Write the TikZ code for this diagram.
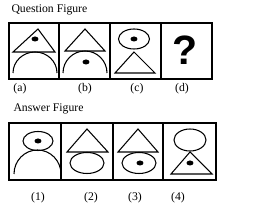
\documentclass[tikz,border=0pt]{standalone}
\usepackage{fontspec}
\setmainfont{Liberation Serif}
\newfontfamily\qmarkfont{Liberation Sans}
\begin{document}
\begin{tikzpicture}[x=0.03cm, y=-0.03cm, line width=0.9pt,
    figlabel/.style={font=\fontsize{10}{12}\selectfont, inner sep=0pt},
    dotmark/.style={fill=black, draw=none}]
  \useasboundingbox (0,0) rectangle (268,206);

  % Question figure: titles, frame and dividers
  \node[figlabel, anchor=west] (qtitle) at (11,10) {Question Figure};
  \draw (9,23) rectangle (212,79);
  \draw (59,23) -- (59,79) (110,23) -- (110,79) (161,23) -- (161,79);

  % (a) triangle with dot above dome
  \draw (38,29) -- (55,52) -- (13,52) -- cycle;
  \fill[dotmark] (35,39) ellipse [x radius=3.5, y radius=2.5];
  \draw (13,73) arc [start angle=180, end angle=360, x radius=22, y radius=21];

  % (b) triangle above dome with dot
  \draw (85,29) -- (105,51) -- (65,51) -- cycle;
  \draw (63,73) arc [start angle=180, end angle=360, x radius=22, y radius=22];
  \fill[dotmark] (86,62) ellipse [x radius=3.5, y radius=2.5];

  % (c) ellipse with dot above triangle
  \draw (134,39) ellipse [x radius=15.5, y radius=10];
  \fill[dotmark] (134,39) ellipse [x radius=3.5, y radius=2.5];
  \draw (134,52) -- (155,73) -- (115,73) -- cycle;

  % (d) question mark
  \node[font=\qmarkfont\bfseries\fontsize{35}{35}\selectfont, inner sep=0pt] (qmark) at (185,50) {?};

  \node[figlabel] (la) at (20,89) {(a)};
  \node[figlabel] (lb) at (85,89) {(b)};
  \node[figlabel] (lc) at (137,89) {(c)};
  \node[figlabel] (ld) at (182,89) {(d)};

  % Answer figure: titles, frame and dividers
  \node[figlabel, anchor=west] (atitle) at (13,109) {Answer Figure};
  \draw (9,123) rectangle (216,180);
  \draw (61,123) -- (61,180) (113,123) -- (113,180) (163,123) -- (163,180);

  % (1) ellipse with dot above dome
  \draw (38,141) ellipse [x radius=15, y radius=9.5];
  \fill[dotmark] (38,141) ellipse [x radius=3.5, y radius=2.5];
  \draw (14,174) arc [start angle=180, end angle=360, x radius=23.5, y radius=24];

  % (2) triangle above ellipse
  \draw (87,129) -- (108,152) -- (67,152) -- cycle;
  \draw (87,163) ellipse [x radius=17, y radius=10.5];

  % (3) triangle above ellipse with dot
  \draw (138,129) -- (158,152) -- (118,152) -- cycle;
  \draw (139,163) ellipse [x radius=17, y radius=10.5];
  \fill[dotmark] (140,163) ellipse [x radius=3.5, y radius=2.5];

  % (4) ellipse above triangle with dot
  \draw (190,140) ellipse [x radius=16, y radius=11];
  \draw (190,152) -- (212,174) -- (171,174) -- cycle;
  \fill[dotmark] (190,163) ellipse [x radius=3.5, y radius=2.5];

  \node[figlabel] (l1) at (38,198) {(1)};
  \node[figlabel] (l2) at (91,198) {(2)};
  \node[figlabel] (l3) at (135,198) {(3)};
  \node[figlabel] (l4) at (178,198) {(4)};
\end{tikzpicture}
\end{document}
